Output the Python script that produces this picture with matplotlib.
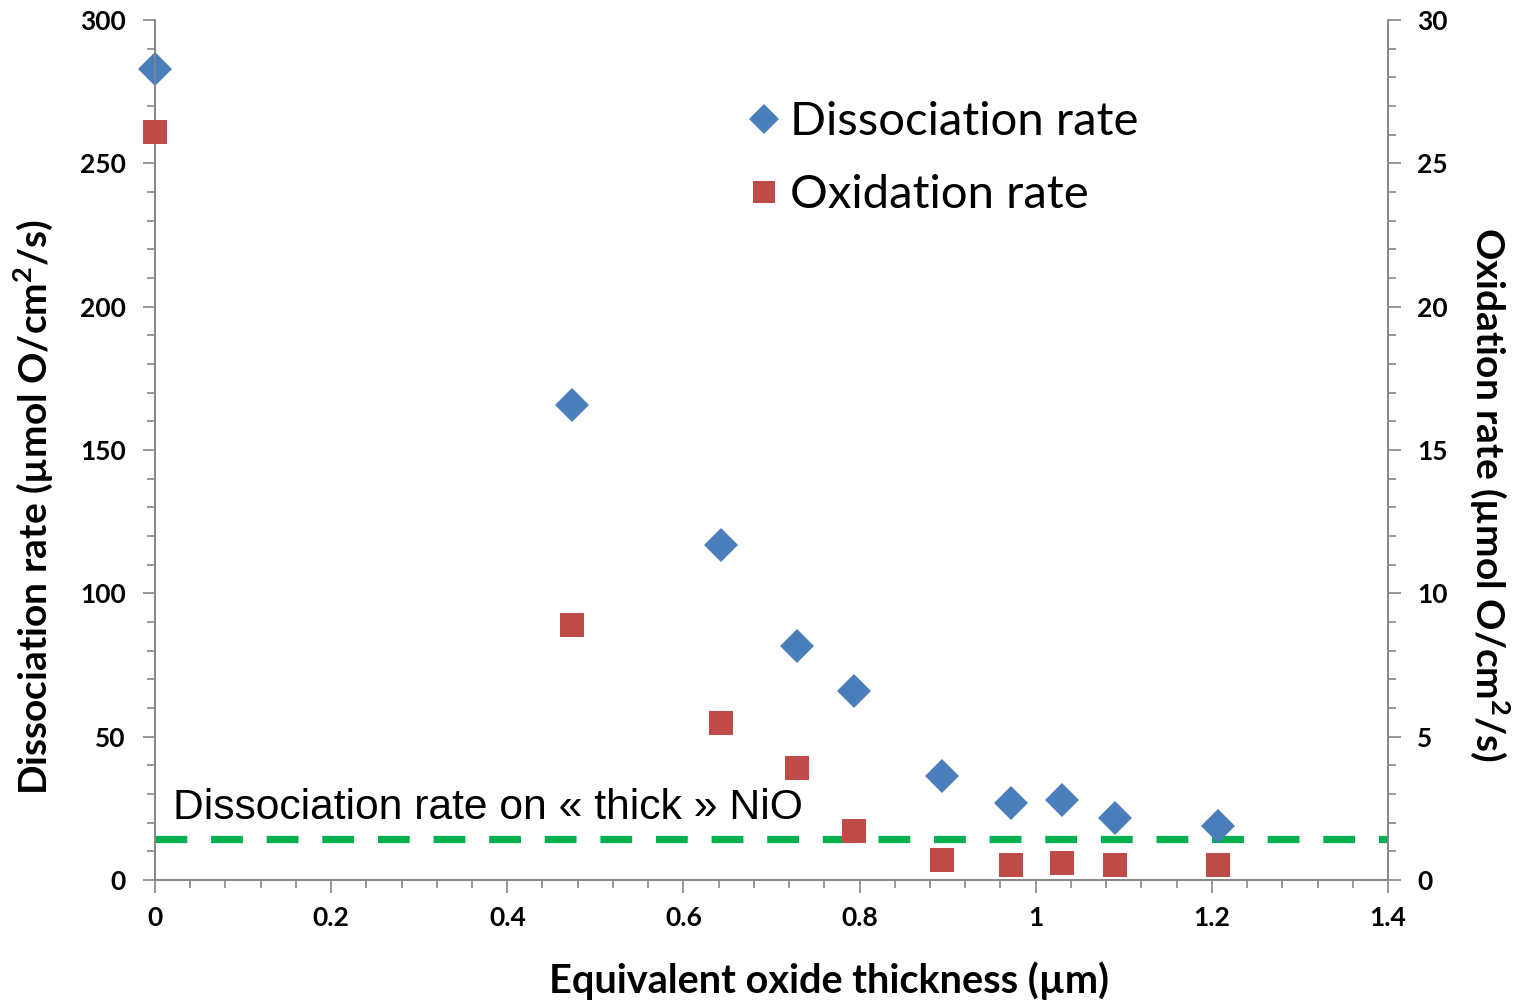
import numpy as np
import matplotlib.pyplot as plt
from matplotlib.ticker import MultipleLocator

# data
thickness = [0.0, 0.474, 0.643, 0.729, 0.794, 0.894, 0.972, 1.030, 1.090, 1.207]
dissociation = [283, 165.7, 116.9, 81.6, 65.9, 36.3, 26.9, 27.9, 21.6, 18.8]
oxidation = [26.1, 8.9, 5.48, 3.9, 1.71, 0.70, 0.52, 0.59, 0.52, 0.52]
thick_nio_rate = 14.3  # dissociation rate on thick NiO

tick_font = 'Lato'
grey = '#868686'

fig = plt.figure(figsize=(15.16, 10.01), dpi=100)
ax = fig.add_axes([0.1022, 0.1209, 0.8134, 0.8591])
ax2 = ax.twinx()

ax.plot(thickness, dissociation, 'D', color='#4A7EBB', markersize=17.5,
        markeredgewidth=0, label='Dissociation rate', zorder=3, clip_on=False)
ax2.plot(thickness, oxidation, 's', color='#BE4B48', markersize=17,
         markeredgewidth=0, label='Oxidation rate', zorder=3, clip_on=False)
ax.axhline(thick_nio_rate, color='#00B050', lw=5.2, dashes=(4.4, 3.3), zorder=2)
ax.text(0.02, 18.0, 'Dissociation rate on « thick » NiO', fontsize=30.7,
        family='Liberation Sans', va='bottom', ha='left')

ax.set_xlim(0, 1.4)
ax.set_ylim(0, 300)
ax2.set_ylim(0, 30)
ax.xaxis.set_major_locator(MultipleLocator(0.2))
ax.xaxis.set_minor_locator(MultipleLocator(0.04))
ax.yaxis.set_major_locator(MultipleLocator(50))
ax.yaxis.set_minor_locator(MultipleLocator(10))
ax2.yaxis.set_major_locator(MultipleLocator(5))
ax2.yaxis.set_minor_locator(MultipleLocator(1))
ax.xaxis.set_major_formatter(plt.FuncFormatter(lambda v, p: f'{v:g}'))

for a in (ax, ax2):
    a.spines['top'].set_visible(False)
    for s in a.spines.values():
        s.set_color(grey)
        s.set_linewidth(1.2)
    a.tick_params(which='both', colors=grey, width=1.2, labelcolor='black',
                  labelsize=19)
    a.tick_params(which='major', length=9)
    a.tick_params(which='minor', length=6)
    for lab in a.get_xticklabels() + a.get_yticklabels():
        lab.set_family(tick_font)
        lab.set_fontweight('bold')
ax.tick_params(axis='y', pad=12)
ax2.tick_params(axis='y', pad=12)
ax.tick_params(axis='x', pad=10)

ax.set_xlabel('Equivalent oxide thickness (µm)', fontsize=28.5, family=tick_font,
              fontweight='bold', labelpad=22)
ax.xaxis.label.set_x(0.547)
ax.set_ylabel('Dissociation rate (µmol O/cm$^\\mathregular{2}$/s)', fontsize=28,
              family=tick_font, fontweight='bold', labelpad=18)
ax.yaxis.label.set_y(0.434)
ax2.set_ylabel('Oxidation rate (µmol O/cm$^\\mathregular{2}$/s)', fontsize=28,
               family=tick_font, fontweight='bold', rotation=270, labelpad=46)
ax2.yaxis.label.set_y(0.448)

h1, l1 = ax.get_legend_handles_labels()
h2, l2 = ax2.get_legend_handles_labels()
ax.legend(h1 + h2, l1 + l2, loc='upper left', bbox_to_anchor=(0.444, 0.955),
          frameon=False, prop={'family': tick_font, 'size': 34},
          handletextpad=0.15, handlelength=0.8, labelspacing=0.66, markerscale=0.9)

fig.savefig('out.png', dpi=100)
